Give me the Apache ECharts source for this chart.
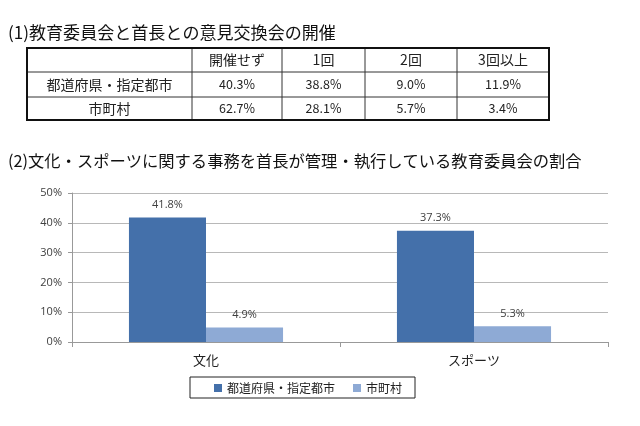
<!DOCTYPE html>
<html><head><meta charset="utf-8">
<script src="https://cdn.jsdelivr.net/npm/echarts@6/dist/echarts.min.js"></script>
<style>html,body{margin:0;padding:0;background:#fff}#c{width:640px;height:426px}</style>
</head><body><div id="c"></div>
<script>
// ---- data ----
var title1 = '(1)教育委員会と首長との意見交換会の開催';
var title2 = '(2)文化・スポーツに関する事務を首長が管理・執行している教育委員会の割合';
var tableHeader = ['', '開催せず', '1回', '2回', '3回以上'];
var tableRowNames = ['都道府県・指定都市', '市町村'];
var tablePref = ['40.3%', '38.8%', '9.0%', '11.9%'];
var tableMuni = ['62.7%', '28.1%', '5.7%', '3.4%'];
var categories = ['文化', 'スポーツ'];
var seriesNames = ['都道府県・指定都市', '市町村'];
var prefValues = [41.8, 37.3];
var muniValues = [4.9, 5.3];
var yTicks = [0, 10, 20, 30, 40, 50];

var FONT = '"Noto Sans CJK JP", "Noto Sans", sans-serif';
// fit a title font size to the width it occupies in the reference
function fitSize(text, targetWidth) {
  var ctx = document.createElement('canvas').getContext('2d');
  ctx.font = '100px ' + FONT;
  return 100 * targetWidth / ctx.measureText(text).width;
}

// ---- table drawn with graphic ----
var colX = [27, 192, 282, 365, 457, 549];
var rowY = [48, 72, 97, 120];
var rows = [tableHeader, [tableRowNames[0]].concat(tablePref), [tableRowNames[1]].concat(tableMuni)];
var g = [];
g.push({type:'text', x: 8, y: 33, style:{text: title1, font: fitSize(title1, 328).toFixed(2) + 'px ' + FONT, fill:'#111', verticalAlign:'middle'}});
g.push({type:'text', x: 8, y: 161, style:{text: title2, font: fitSize(title2, 574).toFixed(2) + 'px ' + FONT, fill:'#111', verticalAlign:'middle'}});
for (var r = 0; r < rows.length; r++) {
  for (var c = 0; c < rows[r].length; c++) {
    var cx = (colX[c] + colX[c+1]) / 2, cy = (rowY[r] + rowY[r+1]) / 2;
    var isNum = r > 0 && c > 0;
    g.push({type:'text', x: cx, y: cy, style:{text: rows[r][c], font: (isNum ? '12.5px ' : '14px ') + FONT, fill:'#222', align:'center', verticalAlign:'middle'}});
  }
}
for (var i = 1; i < colX.length - 1; i++) {
  g.push({type:'line', shape:{x1: colX[i], y1: rowY[0], x2: colX[i], y2: rowY[rowY.length-1]}, style:{stroke:'#333', lineWidth:1}});
}
for (var j = 1; j < rowY.length - 1; j++) {
  g.push({type:'line', shape:{x1: colX[0], y1: rowY[j], x2: colX[colX.length-1], y2: rowY[j]}, style:{stroke:'#333', lineWidth:1}});
}
g.push({type:'rect', shape:{x: colX[0], y: rowY[0], width: colX[colX.length-1]-colX[0], height: rowY[rowY.length-1]-rowY[0]}, style:{fill:'none', stroke:'#111', lineWidth:2}});

var chart = echarts.init(document.getElementById('c'));
chart.setOption({
  animation: false,
  textStyle: {fontFamily: FONT},
  graphic: g,
  grid: {left: 72, right: 32, top: 193, bottom: 84},
  legend: {
    data: seriesNames, left: 190, top: 377,
    padding: [5, 13, 4, 24], itemGap: 18,
    borderColor: '#222', borderWidth: 1,
    itemWidth: 8, itemHeight: 8, icon: 'rect',
    textStyle: {fontSize: 12, color: '#222', fontFamily: FONT}
  },
  xAxis: {
    type: 'category', data: categories,
    axisLine: {lineStyle: {color: '#999'}},
    axisTick: {show: true, length: 5, lineStyle: {color: '#999'}},
    axisLabel: {fontSize: 13, color: '#222', margin: 12, fontFamily: FONT}
  },
  yAxis: {
    type: 'value', min: yTicks[0], max: yTicks[yTicks.length-1], interval: 10,
    axisLine: {show: true, lineStyle: {color: '#999'}},
    axisTick: {show: true, length: 4, lineStyle: {color: '#999'}},
    axisLabel: {formatter: '{value}%', fontSize: 11, color: '#404040', margin: 10, fontFamily: '"Open Sans", sans-serif'},
    splitLine: {lineStyle: {color: '#b8b8b8'}}
  },
  series: [
    {name: seriesNames[0], type: 'bar', data: prefValues, barGap: '0%', barCategoryGap: '42.5%',
     itemStyle: {color: '#4470aa'},
     label: {show: true, position: 'top', distance: 7, formatter: '{c}%', fontSize: 11, color: '#404040', fontFamily: '"Open Sans", sans-serif'}},
    {name: seriesNames[1], type: 'bar', data: muniValues,
     itemStyle: {color: '#8eaad5'},
     label: {show: true, position: 'top', distance: 7, formatter: '{c}%', fontSize: 11, color: '#404040', fontFamily: '"Open Sans", sans-serif'}}
  ]
});
</script></body></html>
